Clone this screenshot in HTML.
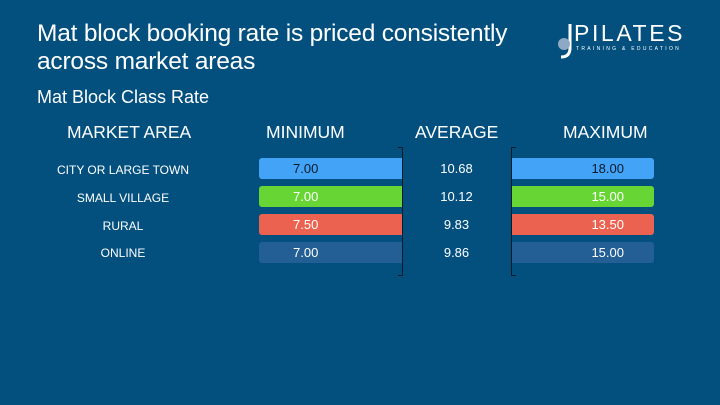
<!DOCTYPE html>
<html><head><style>
body{margin:0;width:720px;height:405px;background:#03507f;font-family:"Liberation Sans",sans-serif;color:#fff;position:relative;overflow:hidden}
.a{position:absolute;white-space:nowrap}
.bar{position:absolute;height:21px;font-size:13px;line-height:21px}
.t{font-size:12px;text-align:center;width:180px}
.h{font-size:17.5px}
</style></head><body>
<div class="a" style="left:37px;top:20px;font-size:24.5px;line-height:28px;letter-spacing:-0.2px">Mat block booking rate is priced consistently<br>across market areas</div>
<div class="a" style="left:37px;top:87px;font-size:18px">Mat Block Class Rate</div>
<div class="a h" style="left:67px;top:122px">MARKET AREA</div>
<div class="a h" style="left:266px;top:122px">MINIMUM</div>
<div class="a h" style="left:415px;top:122px">AVERAGE</div>
<div class="a h" style="left:563px;top:122px">MAXIMUM</div>

<div class="a t" style="left:33px;top:163px">CITY OR LARGE TOWN</div>
<div class="a t" style="left:33px;top:191px">SMALL VILLAGE</div>
<div class="a t" style="left:33px;top:219px">RURAL</div>
<div class="a t" style="left:33px;top:246px">ONLINE</div>

<div class="bar" style="left:259px;top:158px;width:143px;background:#42a3f7;border-radius:3px 0 0 3px;color:#0b1a2a"><span style="margin-left:34px">7.00</span></div>
<div class="bar" style="left:259px;top:186px;width:143px;background:#67d634;border-radius:3px 0 0 3px"><span style="margin-left:34px">7.00</span></div>
<div class="bar" style="left:259px;top:214px;width:143px;background:#eb6350;border-radius:3px 0 0 3px"><span style="margin-left:34px">7.50</span></div>
<div class="bar" style="left:259px;top:242px;width:143px;background:#235f94;border-radius:3px 0 0 3px"><span style="margin-left:34px">7.00</span></div>

<div class="bar" style="left:511px;top:158px;width:143px;background:#42a3f7;border-radius:0 3px 3px 0;color:#0b1a2a;text-align:right"><span style="margin-right:30px">18.00</span></div>
<div class="bar" style="left:511px;top:186px;width:143px;background:#67d634;border-radius:0 3px 3px 0;text-align:right"><span style="margin-right:30px">15.00</span></div>
<div class="bar" style="left:511px;top:214px;width:143px;background:#eb6350;border-radius:0 3px 3px 0;text-align:right"><span style="margin-right:30px">13.50</span></div>
<div class="bar" style="left:511px;top:242px;width:143px;background:#235f94;border-radius:0 3px 3px 0;text-align:right"><span style="margin-right:30px">15.00</span></div>

<div class="a" style="left:398px;top:147px;width:4px;height:127px;border:1px solid #0a1a28;border-left:none"></div>
<div class="a" style="left:511px;top:147px;width:4px;height:127px;border:1px solid #0a1a28;border-right:none"></div>

<div class="bar" style="left:406px;top:158px;width:101px;text-align:center">10.68</div>
<div class="bar" style="left:406px;top:186px;width:101px;text-align:center">10.12</div>
<div class="bar" style="left:406px;top:214px;width:101px;text-align:center">9.83</div>
<div class="bar" style="left:406px;top:242px;width:101px;text-align:center">9.86</div>

<svg class="a" style="left:550px;top:20px" width="30" height="40"><path d="M20 4 V28 Q20 37 11 37" stroke="#fff" stroke-width="3" fill="none"/><circle cx="14" cy="24" r="6" fill="#8fa9c4"/></svg>
<div class="a" style="left:574px;top:20px;font-size:23px;letter-spacing:2.6px">PILATES</div>
<div class="a" style="left:576px;top:46px;font-size:5px;letter-spacing:2.3px">TRAINING &amp; EDUCATION</div>
</body></html>
